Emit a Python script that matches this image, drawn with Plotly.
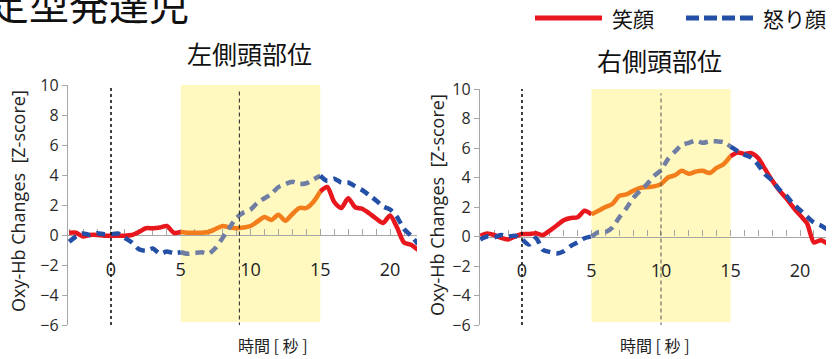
import plotly.graph_objects as go

# ---------------- data ----------------
time_s = [-3, -2.5, -2, -1.5, -1, -0.5, 0, 0.5, 1, 1.5, 2, 2.5, 3, 3.5, 4, 4.5,
          5, 5.5, 6, 6.5, 7, 7.5, 8, 8.5, 9, 9.5, 10, 10.5, 11, 11.5, 12, 12.5,
          13, 13.5, 14, 14.5, 15, 15.5, 16, 16.5, 17, 17.5, 18, 18.5, 19, 19.5,
          20, 20.5, 21, 21.5, 22]

left_smile = [0.15, 0.15, -0.1, 0.0, 0.0, -0.05, -0.05, -0.05, -0.05, 0.0, 0.2, 0.45,
              0.45, 0.5, 0.6, 0.15, 0.2, 0.15, 0.15, 0.15, 0.2, 0.4, 0.6, 0.5, 0.45,
              0.5, 0.6, 0.9, 1.2, 1.0, 1.35, 0.95, 1.4, 1.8, 1.8, 2.2, 2.9, 3.2, 2.2,
              1.8, 2.45, 1.85, 1.75, 1.45, 1.1, 0.8, 1.3, 0.5, -0.5, -0.65, -1.0]
left_angry = [-0.45, -0.1, 0.1, 0.0, 0.12, 0.05, 0.05, 0.1, -0.2, -0.5, -0.95, -1.05,
              -0.9, -1.25, -1.1, -1.2, -1.15, -1.25, -1.2, -1.15, -1.25, -0.85, -0.2,
              0.5, 1.15, 1.5, 1.7, 2.15, 2.45, 2.75, 3.2, 3.4, 3.55, 3.4, 3.45, 3.7,
              3.95, 3.6, 3.75, 3.5, 3.5, 3.25, 3.0, 2.65, 2.3, 1.9, 1.7, 1.2, 0.4,
              -0.05, -0.6]
right_smile = [0.05, 0.2, 0.1, -0.1, -0.2, 0.0, 0.17, 0.17, 0.22, 0.1, 0.4, 0.75, 1.1,
               1.25, 1.3, 1.75, 1.5, 1.75, 2.0, 2.2, 2.75, 2.85, 3.1, 3.3, 3.35, 3.4,
               3.55, 4.0, 4.15, 4.45, 4.25, 4.4, 4.45, 4.3, 4.65, 4.9, 5.45, 5.7, 5.6,
               5.65, 5.3, 4.55, 3.8, 3.15, 2.6, 2.0, 1.45, 0.9, -0.4, -0.25, -0.5]
right_angry = [-0.2, 0.0, -0.05, 0.1, 0.0, 0.05, -0.2, -0.55, -0.1, -0.9, -1.05, -1.15,
               -1.0, -0.65, -0.4, -0.12, 0.0, 0.3, 0.3, 0.6, 1.3, 1.9, 2.6, 3.1, 3.55,
               4.1, 4.5, 5.25, 5.75, 6.2, 6.35, 6.5, 6.35, 6.45, 6.45, 6.4, 6.1, 5.8,
               5.55, 5.35, 4.85, 4.2, 3.8, 3.2, 2.8, 2.2, 1.8, 1.35, 0.95, 0.75, 0.45]

panel_titles = ["左側頭部位", "右側頭部位"]
series_names = ["笑顔", "怒り顔"]
stim_window = [5, 15]
onset_time = 0
marker_times = [9.2, 10]
y_range = [-6, 10]
x_ticks = [0, 5, 10, 15, 20]

# ---------------- style ----------------
W, H = 835, 359
RED, ORANGE = "#e8171e", "#f27d1a"
BLUE, GREYBLUE = "#2350a6", "#6f7ea2"
BAND = "#fff8bf"
AXIS = "#a6a6a6"
CJK = "Noto Sans CJK JP"
LAT = "Open Sans"


def px(x):
    return x / W


def py(y):
    return 1 - y / H


panels = [
    dict(xd=[68, 417], xr=[-3.08, 21.93], yd=[325, 85], smile=left_smile,
         angry=left_angry, marker=marker_times[0], marker_color="#222222",
         ytitle=(18, 201), xtitle=(273, 345), title=(249, 53)),
    dict(xd=[480, 826], xr=[-3.02, 21.87], yd=[325, 89], smile=right_smile,
         angry=right_angry, marker=marker_times[1], marker_color="#555555",
         ytitle=(437, 205), xtitle=(655, 345), title=(659, 60)),
]

fig = go.Figure()
shapes, annotations = [], []
dash_pat = "9px,6px"

for i, p in enumerate(panels):
    xa = "x" if i == 0 else "x2"
    ya = "y" if i == 0 else "y2"
    t0, t1 = stim_window
    segs = [
        [k for k, t in enumerate(time_s) if t <= t0],
        [k for k, t in enumerate(time_s) if t0 <= t <= t1],
        [k for k, t in enumerate(time_s) if t >= t1],
    ]
    for name, vals, cols, dash in [
        (series_names[0], p["smile"], [RED, ORANGE, RED], "solid"),
        (series_names[1], p["angry"], [BLUE, GREYBLUE, BLUE], dash_pat),
    ]:
        for idx, col in zip(segs, cols):
            fig.add_trace(go.Scatter(
                x=[time_s[k] for k in idx], y=[vals[k] for k in idx],
                mode="lines", name=name, showlegend=False, xaxis=xa, yaxis=ya,
                line=dict(color=col, width=4.5, dash=dash, shape="spline",
                          smoothing=0.7),
                hoverinfo="skip"))

    # yellow stimulus band
    shapes.append(dict(type="rect", xref=xa, yref=ya, x0=t0, x1=t1, y0=-5.8,
                       y1=y_range[1], fillcolor=BAND, line=dict(width=0),
                       layer="below"))
    # onset dotted line
    shapes.append(dict(type="line", xref=xa, yref=ya, x0=onset_time,
                       x1=onset_time, y0=y_range[0], y1=y_range[1],
                       line=dict(color="#111111", width=1.6, dash="dot")))
    # marker dashed line
    shapes.append(dict(type="line", xref=xa, yref=ya, x0=p["marker"],
                       x1=p["marker"], y0=y_range[0] - 0.1, y1=y_range[1] - 0.3,
                       line=dict(color=p["marker_color"], width=1, dash="4px,3px")))

    # axes
    yd = [py(p["yd"][0]), py(p["yd"][1])]
    zero_pos = yd[0] + (0 - y_range[0]) / (y_range[1] - y_range[0]) * (yd[1] - yd[0])
    xkey = "xaxis" if i == 0 else "xaxis2"
    ykey = "yaxis" if i == 0 else "yaxis2"
    fig.layout[xkey] = dict(
        domain=[px(p["xd"][0]), px(p["xd"][1])], range=p["xr"], anchor="free",
        position=zero_pos, showline=True, linecolor=AXIS, linewidth=1.3,
        ticks="inside", ticklen=6, tickcolor=AXIS, tickwidth=1.2,
        tickvals=x_ticks,
        minor=dict(dtick=1, tick0=0, ticks="inside", ticklen=6, tickcolor=AXIS,
                   tickwidth=1.2, showgrid=False),
        tickfont=dict(family=LAT, size=18, color="#222222"),
        ticklabelstandoff=18, showgrid=False, zeroline=False,
        layer="below traces", fixedrange=True)
    fig.layout[ykey] = dict(
        domain=yd, range=y_range, anchor=xa, showline=True, linecolor=AXIS,
        linewidth=1.3, ticks="outside", ticklen=5, tickcolor=AXIS, dtick=2,
        tick0=0, tickfont=dict(family=LAT, size=16, color="#2a2a2a"),
        showgrid=False, zeroline=False, layer="below traces", fixedrange=True)

    annotations.append(dict(
        text="Oxy-Hb Changes  [Z-score]", textangle=-90, xref="paper",
        yref="paper", x=px(p["ytitle"][0]), y=py(p["ytitle"][1]),
        xanchor="center", yanchor="middle", showarrow=False,
        font=dict(family=LAT, size=18, color="#222222")))
    annotations.append(dict(
        text="時間 [ 秒 ]", xref="paper", yref="paper", x=px(p["xtitle"][0]),
        y=py(p["xtitle"][1]), xanchor="center", yanchor="middle",
        showarrow=False, font=dict(family=CJK, size=16, color="#222222")))
    annotations.append(dict(
        text=panel_titles[i], xref="paper", yref="paper", x=px(p["title"][0]),
        y=py(p["title"][1]), xanchor="center", yanchor="middle",
        showarrow=False, font=dict(family=CJK, size=25, color="#111111")))

# big group title (cut off at top-left, as in the source slide)
annotations.append(dict(
    text="定型発達児", xref="paper", yref="paper", x=px(-13), y=py(3),
    xanchor="left", yanchor="middle", showarrow=False,
    font=dict(family=CJK, size=40, color="#111111")))

# legend (drawn manually)
shapes.append(dict(type="line", xref="paper", yref="paper", x0=px(535),
                   x1=px(602), y0=py(18), y1=py(18),
                   line=dict(color=RED, width=5)))
shapes.append(dict(type="line", xref="paper", yref="paper", x0=px(686),
                   x1=px(753), y0=py(18), y1=py(18),
                   line=dict(color=BLUE, width=5, dash="13px,5px")))
annotations.append(dict(
    text=series_names[0], xref="paper", yref="paper", x=px(610), y=py(18),
    xanchor="left", yanchor="middle", showarrow=False,
    font=dict(family=CJK, size=21, color="#111111")))
annotations.append(dict(
    text=series_names[1], xref="paper", yref="paper", x=px(761), y=py(18),
    xanchor="left", yanchor="middle", showarrow=False,
    font=dict(family=CJK, size=21, color="#111111")))

fig.update_layout(
    width=W, height=H, margin=dict(l=0, r=0, t=0, b=0, autoexpand=False),
    paper_bgcolor="white", plot_bgcolor="rgba(0,0,0,0)", showlegend=False,
    shapes=shapes, annotations=annotations)

fig.write_html("out.html", config={"displayModeBar": False})
